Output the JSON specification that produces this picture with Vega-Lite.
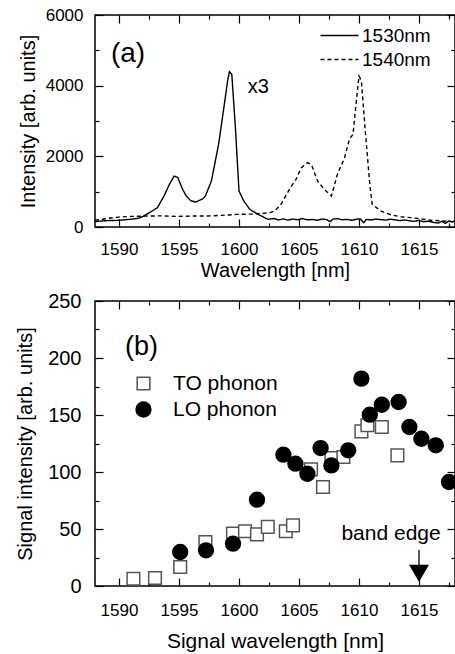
{
  "$schema": "https://vega.github.io/schema/vega-lite/v6.json",
  "padding": {"left": 14, "top": 5, "right": 0, "bottom": 0},
  "spacing": 9,
  "config": {
    "font": "Liberation Sans",
    "view": {"stroke": "black", "strokeWidth": 1.5},
    "axis": {"domain": false, "grid": false, "tickColor": "black", "tickWidth": 1.2, "labelColor": "black", "titleColor": "black", "titleFontWeight": "normal", "labelFont": "Liberation Sans", "titleFont": "Liberation Sans"},
    "legend": {"labelFont": "Liberation Sans", "labelColor": "black", "padding": 0}
  },
  "datasets": {
    "spectra": [
      {"series": "1530nm", "wavelength": 1588.0, "intensity": 150},
      {"series": "1530nm", "wavelength": 1588.5, "intensity": 170},
      {"series": "1530nm", "wavelength": 1589.0, "intensity": 180},
      {"series": "1530nm", "wavelength": 1589.5, "intensity": 185},
      {"series": "1530nm", "wavelength": 1590.0, "intensity": 190},
      {"series": "1530nm", "wavelength": 1590.5, "intensity": 205},
      {"series": "1530nm", "wavelength": 1591.0, "intensity": 220},
      {"series": "1530nm", "wavelength": 1591.6, "intensity": 245},
      {"series": "1530nm", "wavelength": 1592.0, "intensity": 300},
      {"series": "1530nm", "wavelength": 1592.5, "intensity": 400},
      {"series": "1530nm", "wavelength": 1593.2, "intensity": 545},
      {"series": "1530nm", "wavelength": 1593.75, "intensity": 877},
      {"series": "1530nm", "wavelength": 1594.2, "intensity": 1208},
      {"series": "1530nm", "wavelength": 1594.6, "intensity": 1443},
      {"series": "1530nm", "wavelength": 1594.9, "intensity": 1400},
      {"series": "1530nm", "wavelength": 1595.3, "intensity": 1066},
      {"series": "1530nm", "wavelength": 1595.6, "intensity": 880},
      {"series": "1530nm", "wavelength": 1596.0, "intensity": 740},
      {"series": "1530nm", "wavelength": 1596.4, "intensity": 705},
      {"series": "1530nm", "wavelength": 1596.7, "intensity": 755},
      {"series": "1530nm", "wavelength": 1597.0, "intensity": 800},
      {"series": "1530nm", "wavelength": 1597.2, "intensity": 877},
      {"series": "1530nm", "wavelength": 1597.7, "intensity": 1302},
      {"series": "1530nm", "wavelength": 1598.3, "intensity": 2340},
      {"series": "1530nm", "wavelength": 1598.7, "intensity": 3283},
      {"series": "1530nm", "wavelength": 1599.05, "intensity": 4132},
      {"series": "1530nm", "wavelength": 1599.2, "intensity": 4396},
      {"series": "1530nm", "wavelength": 1599.4, "intensity": 4321},
      {"series": "1530nm", "wavelength": 1599.7, "intensity": 2811},
      {"series": "1530nm", "wavelength": 1600.0, "intensity": 1019},
      {"series": "1530nm", "wavelength": 1600.4, "intensity": 736},
      {"series": "1530nm", "wavelength": 1600.9, "intensity": 500},
      {"series": "1530nm", "wavelength": 1601.6, "intensity": 358},
      {"series": "1530nm", "wavelength": 1602.4, "intensity": 217},
      {"series": "1530nm", "wavelength": 1602.9, "intensity": 240},
      {"series": "1530nm", "wavelength": 1603.3, "intensity": 200},
      {"series": "1530nm", "wavelength": 1603.7, "intensity": 230},
      {"series": "1530nm", "wavelength": 1604.1, "intensity": 195},
      {"series": "1530nm", "wavelength": 1604.5, "intensity": 225},
      {"series": "1530nm", "wavelength": 1604.9, "intensity": 205},
      {"series": "1530nm", "wavelength": 1605.3, "intensity": 240},
      {"series": "1530nm", "wavelength": 1605.7, "intensity": 200},
      {"series": "1530nm", "wavelength": 1606.1, "intensity": 215},
      {"series": "1530nm", "wavelength": 1606.5, "intensity": 190},
      {"series": "1530nm", "wavelength": 1606.9, "intensity": 225},
      {"series": "1530nm", "wavelength": 1607.3, "intensity": 210},
      {"series": "1530nm", "wavelength": 1607.6, "intensity": 150},
      {"series": "1530nm", "wavelength": 1607.8, "intensity": 220},
      {"series": "1530nm", "wavelength": 1608.2, "intensity": 235},
      {"series": "1530nm", "wavelength": 1608.6, "intensity": 205},
      {"series": "1530nm", "wavelength": 1609.0, "intensity": 215},
      {"series": "1530nm", "wavelength": 1609.4, "intensity": 190},
      {"series": "1530nm", "wavelength": 1609.8, "intensity": 220},
      {"series": "1530nm", "wavelength": 1610.1, "intensity": 230},
      {"series": "1530nm", "wavelength": 1610.4, "intensity": 120},
      {"series": "1530nm", "wavelength": 1610.6, "intensity": 215},
      {"series": "1530nm", "wavelength": 1611.0, "intensity": 200},
      {"series": "1530nm", "wavelength": 1611.4, "intensity": 225},
      {"series": "1530nm", "wavelength": 1611.8, "intensity": 210},
      {"series": "1530nm", "wavelength": 1612.2, "intensity": 195},
      {"series": "1530nm", "wavelength": 1612.6, "intensity": 220},
      {"series": "1530nm", "wavelength": 1613.0, "intensity": 205},
      {"series": "1530nm", "wavelength": 1613.4, "intensity": 180},
      {"series": "1530nm", "wavelength": 1613.8, "intensity": 200},
      {"series": "1530nm", "wavelength": 1614.2, "intensity": 175},
      {"series": "1530nm", "wavelength": 1614.6, "intensity": 160},
      {"series": "1530nm", "wavelength": 1615.0, "intensity": 185},
      {"series": "1530nm", "wavelength": 1615.4, "intensity": 150},
      {"series": "1530nm", "wavelength": 1615.8, "intensity": 165},
      {"series": "1530nm", "wavelength": 1616.2, "intensity": 130},
      {"series": "1530nm", "wavelength": 1616.6, "intensity": 110},
      {"series": "1530nm", "wavelength": 1616.9, "intensity": 160},
      {"series": "1530nm", "wavelength": 1617.2, "intensity": 100},
      {"series": "1530nm", "wavelength": 1617.5, "intensity": 170},
      {"series": "1530nm", "wavelength": 1617.8, "intensity": 140},
      {"series": "1530nm", "wavelength": 1618.0, "intensity": 190},
      {"series": "1540nm", "wavelength": 1588.0, "intensity": 190},
      {"series": "1540nm", "wavelength": 1588.5, "intensity": 215},
      {"series": "1540nm", "wavelength": 1589.0, "intensity": 240},
      {"series": "1540nm", "wavelength": 1589.5, "intensity": 264},
      {"series": "1540nm", "wavelength": 1590.0, "intensity": 280},
      {"series": "1540nm", "wavelength": 1591.0, "intensity": 300},
      {"series": "1540nm", "wavelength": 1592.5, "intensity": 311},
      {"series": "1540nm", "wavelength": 1593.5, "intensity": 315},
      {"series": "1540nm", "wavelength": 1594.9, "intensity": 300},
      {"series": "1540nm", "wavelength": 1596.0, "intensity": 310},
      {"series": "1540nm", "wavelength": 1597.4, "intensity": 311},
      {"series": "1540nm", "wavelength": 1598.5, "intensity": 330},
      {"series": "1540nm", "wavelength": 1599.9, "intensity": 358},
      {"series": "1540nm", "wavelength": 1601.0, "intensity": 365},
      {"series": "1540nm", "wavelength": 1601.9, "intensity": 377},
      {"series": "1540nm", "wavelength": 1602.7, "intensity": 420},
      {"series": "1540nm", "wavelength": 1603.0, "intensity": 460},
      {"series": "1540nm", "wavelength": 1603.5, "intensity": 642},
      {"series": "1540nm", "wavelength": 1604.2, "intensity": 1066},
      {"series": "1540nm", "wavelength": 1604.75, "intensity": 1349},
      {"series": "1540nm", "wavelength": 1605.2, "intensity": 1679},
      {"series": "1540nm", "wavelength": 1605.7, "intensity": 1820},
      {"series": "1540nm", "wavelength": 1606.05, "intensity": 1755},
      {"series": "1540nm", "wavelength": 1606.55, "intensity": 1302},
      {"series": "1540nm", "wavelength": 1607.1, "intensity": 1066},
      {"series": "1540nm", "wavelength": 1607.7, "intensity": 877},
      {"series": "1540nm", "wavelength": 1608.2, "intensity": 1491},
      {"series": "1540nm", "wavelength": 1608.8, "intensity": 1962},
      {"series": "1540nm", "wavelength": 1609.2, "intensity": 2481},
      {"series": "1540nm", "wavelength": 1609.5, "intensity": 2623},
      {"series": "1540nm", "wavelength": 1609.75, "intensity": 3472},
      {"series": "1540nm", "wavelength": 1610.0, "intensity": 4274},
      {"series": "1540nm", "wavelength": 1610.2, "intensity": 4132},
      {"series": "1540nm", "wavelength": 1610.5, "intensity": 2811},
      {"series": "1540nm", "wavelength": 1610.9, "intensity": 1208},
      {"series": "1540nm", "wavelength": 1611.1, "intensity": 642},
      {"series": "1540nm", "wavelength": 1611.8, "intensity": 453},
      {"series": "1540nm", "wavelength": 1612.7, "intensity": 340},
      {"series": "1540nm", "wavelength": 1613.5, "intensity": 290},
      {"series": "1540nm", "wavelength": 1614.3, "intensity": 264},
      {"series": "1540nm", "wavelength": 1615.2, "intensity": 230},
      {"series": "1540nm", "wavelength": 1616.0, "intensity": 190},
      {"series": "1540nm", "wavelength": 1617.0, "intensity": 170},
      {"series": "1540nm", "wavelength": 1618.0, "intensity": 150}
    ],
    "signal": [
      {"phonon": "TO phonon", "wavelength": 1591.2, "intensity": 6.4},
      {"phonon": "TO phonon", "wavelength": 1593.0, "intensity": 7},
      {"phonon": "TO phonon", "wavelength": 1595.1, "intensity": 16.7},
      {"phonon": "TO phonon", "wavelength": 1597.2, "intensity": 38.6},
      {"phonon": "TO phonon", "wavelength": 1599.5, "intensity": 45.9},
      {"phonon": "TO phonon", "wavelength": 1600.5, "intensity": 48},
      {"phonon": "TO phonon", "wavelength": 1601.5, "intensity": 45.3},
      {"phonon": "TO phonon", "wavelength": 1602.4, "intensity": 51.8},
      {"phonon": "TO phonon", "wavelength": 1603.9, "intensity": 48},
      {"phonon": "TO phonon", "wavelength": 1604.5, "intensity": 53.2},
      {"phonon": "TO phonon", "wavelength": 1606.0, "intensity": 102.3},
      {"phonon": "TO phonon", "wavelength": 1607.0, "intensity": 86.8},
      {"phonon": "TO phonon", "wavelength": 1607.7, "intensity": 112.3},
      {"phonon": "TO phonon", "wavelength": 1608.7, "intensity": 113.2},
      {"phonon": "TO phonon", "wavelength": 1610.2, "intensity": 135.7},
      {"phonon": "TO phonon", "wavelength": 1610.7, "intensity": 141},
      {"phonon": "TO phonon", "wavelength": 1611.9, "intensity": 139.5},
      {"phonon": "TO phonon", "wavelength": 1613.2, "intensity": 114.6},
      {"phonon": "LO phonon", "wavelength": 1595.1, "intensity": 29.8},
      {"phonon": "LO phonon", "wavelength": 1597.25, "intensity": 31.3},
      {"phonon": "LO phonon", "wavelength": 1599.5, "intensity": 37.1},
      {"phonon": "LO phonon", "wavelength": 1601.5, "intensity": 75.7},
      {"phonon": "LO phonon", "wavelength": 1603.7, "intensity": 115.2},
      {"phonon": "LO phonon", "wavelength": 1604.7, "intensity": 107.3},
      {"phonon": "LO phonon", "wavelength": 1605.7, "intensity": 98.5},
      {"phonon": "LO phonon", "wavelength": 1606.8, "intensity": 121},
      {"phonon": "LO phonon", "wavelength": 1607.7, "intensity": 105.8},
      {"phonon": "LO phonon", "wavelength": 1609.1, "intensity": 119},
      {"phonon": "LO phonon", "wavelength": 1610.2, "intensity": 181.9},
      {"phonon": "LO phonon", "wavelength": 1610.9, "intensity": 150.3},
      {"phonon": "LO phonon", "wavelength": 1611.9, "intensity": 159},
      {"phonon": "LO phonon", "wavelength": 1613.3, "intensity": 161.4},
      {"phonon": "LO phonon", "wavelength": 1614.2, "intensity": 139.5},
      {"phonon": "LO phonon", "wavelength": 1615.2, "intensity": 129.2},
      {"phonon": "LO phonon", "wavelength": 1616.4, "intensity": 123.4},
      {"phonon": "LO phonon", "wavelength": 1617.5, "intensity": 91.2}
    ]
  },
  "vconcat": [
    {
      "width": 360,
      "height": 212,
      "layer": [
        {
          "data": {"name": "spectra"},
          "mark": {"type": "line", "clip": true, "strokeWidth": 1.4, "color": "black"},
          "encoding": {
            "x": {
              "field": "wavelength", "type": "quantitative",
              "scale": {"domain": [1588, 1618], "nice": false, "zero": false},
              "axis": {
                "orient": "bottom", "title": "Wavelength [nm]",
                "values": [1590, 1592.5, 1595, 1597.5, 1600, 1602.5, 1605, 1607.5, 1610, 1612.5, 1615, 1617.5],
                "labelExpr": "datum.value % 5 === 0 ? datum.label : ''",
                "format": "d",
                "tickSize": {"condition": {"test": "datum.value % 5 === 0", "value": -8}, "value": -4},
                "labelPadding": 22, "labelFontSize": 17, "titleFontSize": 20, "titlePadding": 3
              }
            },
            "y": {
              "field": "intensity", "type": "quantitative",
              "scale": {"domain": [0, 6000], "nice": false},
              "axis": {
                "orient": "left", "title": "Intensity [arb. units]",
                "values": [0, 1000, 2000, 3000, 4000, 5000, 6000],
                "labelExpr": "datum.value % 2000 === 0 ? datum.label : ''",
                "format": "d",
                "tickSize": {"condition": {"test": "datum.value % 2000 === 0", "value": -8}, "value": -4},
                "labelPadding": 20, "labelFontSize": 17, "titleFontSize": 20, "titlePadding": 7
              }
            },
            "strokeDash": {
              "field": "series", "type": "nominal",
              "scale": {"domain": ["1530nm", "1540nm"], "range": [[1, 0], [4, 3]]},
              "legend": {
                "title": null, "orient": "none", "legendX": 234, "legendY": 10,
                "symbolType": "M-2,0H2", "symbolSize": 361, "symbolStrokeWidth": 1.4, "symbolStrokeColor": "black",
                "labelFontSize": 19, "labelOffset": 12, "rowPadding": 3
              }
            }
          }
        },
        {
          "data": {"values": [{"wavelength": 1589.33, "intensity": 4896, "label": "(a)"}]},
          "mark": {"type": "text", "align": "left", "baseline": "middle", "fontSize": 28, "color": "black"},
          "encoding": {
            "x": {
              "field": "wavelength", "type": "quantitative",
              "axis": {
                "orient": "top", "title": null, "labels": false,
                "values": [1590, 1592.5, 1595, 1597.5, 1600, 1602.5, 1605, 1607.5, 1610, 1612.5, 1615, 1617.5],
                "tickSize": {"condition": {"test": "datum.value % 5 === 0", "value": -8}, "value": -4}
              }
            },
            "y": {
              "field": "intensity", "type": "quantitative",
              "axis": {
                "orient": "right", "title": null, "labels": false,
                "values": [0, 1000, 2000, 3000, 4000, 5000, 6000],
                "tickSize": {"condition": {"test": "datum.value % 2000 === 0", "value": -8}, "value": -4}
              }
            },
            "text": {"field": "label"}
          }
        },
        {
          "data": {"values": [{"wavelength": 1601.6, "intensity": 3962, "label": "x3"}]},
          "mark": {"type": "text", "align": "center", "baseline": "middle", "fontSize": 20, "color": "black"},
          "encoding": {
            "x": {"field": "wavelength", "type": "quantitative", "axis": null},
            "y": {"field": "intensity", "type": "quantitative", "axis": null},
            "text": {"field": "label"}
          }
        }
      ],
      "resolve": {"axis": {"x": "independent", "y": "independent"}}
    },
    {
      "width": 360,
      "height": 285,
      "layer": [
        {
          "data": {"name": "signal"},
          "mark": {"type": "point", "filled": true, "strokeWidth": 1.5, "opacity": 1, "clip": true},
          "encoding": {
            "x": {
              "field": "wavelength", "type": "quantitative",
              "scale": {"domain": [1588, 1618], "nice": false, "zero": false},
              "axis": {
                "orient": "bottom", "title": "Signal wavelength [nm]",
                "values": [1590, 1592.5, 1595, 1597.5, 1600, 1602.5, 1605, 1607.5, 1610, 1612.5, 1615, 1617.5],
                "labelExpr": "datum.value % 5 === 0 ? datum.label : ''",
                "format": "d",
                "tickSize": {"condition": {"test": "datum.value % 5 === 0", "value": -8}, "value": -4},
                "labelPadding": 24, "labelFontSize": 17, "titleFontSize": 21, "titlePadding": 12
              }
            },
            "y": {
              "field": "intensity", "type": "quantitative",
              "scale": {"domain": [0, 250], "nice": false},
              "axis": {
                "orient": "left", "title": "Signal intensity [arb. units]",
                "values": [0, 25, 50, 75, 100, 125, 150, 175, 200, 225, 250],
                "labelExpr": "datum.value % 50 === 0 ? datum.label : ''",
                "tickSize": {"condition": {"test": "datum.value % 50 === 0", "value": -8}, "value": -4},
                "labelPadding": 22, "labelFontSize": 20, "titleFontSize": 20, "titlePadding": 12
              }
            },
            "shape": {
              "field": "phonon", "type": "nominal",
              "scale": {"domain": ["TO phonon", "LO phonon"], "range": ["square", "circle"]},
              "legend": {
                "title": null, "orient": "none", "legendX": 38, "legendY": 358,
                "labelFontSize": 21, "labelOffset": 19, "rowPadding": 4, "symbolStrokeWidth": 1.5
              }
            },
            "fill": {
              "field": "phonon", "type": "nominal",
              "scale": {"domain": ["TO phonon", "LO phonon"], "range": ["white", "black"]}
            },
            "stroke": {
              "field": "phonon", "type": "nominal",
              "scale": {"domain": ["TO phonon", "LO phonon"], "range": ["#555555", "black"]}
            },
            "size": {
              "field": "phonon", "type": "nominal",
              "scale": {"domain": ["TO phonon", "LO phonon"], "range": [160, 220]}
            }
          }
        },
        {
          "data": {"values": [{"wavelength": 1590.5, "intensity": 209.6, "label": "(b)"}]},
          "mark": {"type": "text", "align": "left", "baseline": "middle", "fontSize": 27, "color": "black"},
          "encoding": {
            "x": {
              "field": "wavelength", "type": "quantitative",
              "axis": {
                "orient": "top", "title": null, "labels": false,
                "values": [1590, 1592.5, 1595, 1597.5, 1600, 1602.5, 1605, 1607.5, 1610, 1612.5, 1615, 1617.5],
                "tickSize": {"condition": {"test": "datum.value % 5 === 0", "value": -8}, "value": -4}
              }
            },
            "y": {
              "field": "intensity", "type": "quantitative",
              "axis": {
                "orient": "right", "title": null, "labels": false,
                "values": [0, 25, 50, 75, 100, 125, 150, 175, 200, 225, 250],
                "tickSize": {"condition": {"test": "datum.value % 50 === 0", "value": -8}, "value": -4}
              }
            },
            "text": {"field": "label"}
          }
        },
        {
          "data": {"values": [{"wavelength": 1612.67, "intensity": 45.6, "label": "band edge"}]},
          "mark": {"type": "text", "align": "center", "baseline": "middle", "fontSize": 21, "color": "black"},
          "encoding": {
            "x": {"field": "wavelength", "type": "quantitative", "axis": null},
            "y": {"field": "intensity", "type": "quantitative", "axis": null},
            "text": {"field": "label"}
          }
        },
        {
          "data": {"values": [{"wavelength": 1615, "from": 31.6, "to": 15}]},
          "mark": {"type": "rule", "color": "black", "strokeWidth": 1.3},
          "encoding": {
            "x": {"field": "wavelength", "type": "quantitative", "axis": null},
            "y": {"field": "from", "type": "quantitative", "axis": null},
            "y2": {"field": "to"}
          }
        },
        {
          "data": {"values": [{"wavelength": 1615, "intensity": 11}]},
          "mark": {"type": "point", "shape": "triangle-down", "size": 400, "filled": true, "color": "black", "opacity": 1},
          "encoding": {
            "x": {"field": "wavelength", "type": "quantitative", "axis": null},
            "y": {"field": "intensity", "type": "quantitative", "axis": null}
          }
        }
      ],
      "resolve": {"axis": {"x": "independent", "y": "independent"}}
    }
  ]
}
